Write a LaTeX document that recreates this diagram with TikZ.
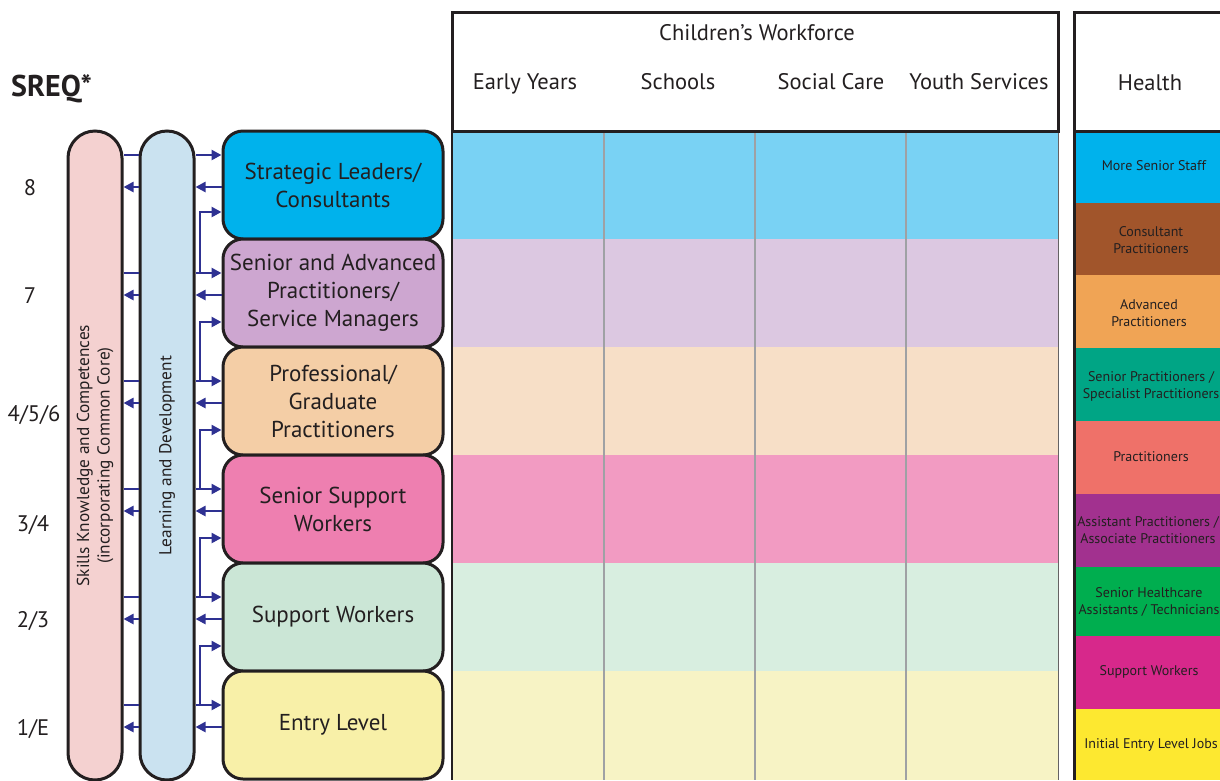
\documentclass[tikz,border=0pt]{standalone}
\usepackage{fontspec}
\setmainfont{PT Sans}
\usetikzlibrary{arrows.meta}

\definecolor{ink}{HTML}{231F20}
\definecolor{arrowblue}{HTML}{2E3192}
\definecolor{divgrey}{HTML}{9FA1A4}
\definecolor{pillpink}{HTML}{F4D1D0}
\definecolor{pillblue}{HTML}{CAE2F0}
\definecolor{boxstrat}{HTML}{00B2EC}
\definecolor{boxsenior}{HTML}{CDA6D0}
\definecolor{boxprof}{HTML}{F4CEA6}
\definecolor{boxsupsr}{HTML}{EE7FB0}
\definecolor{boxsup}{HTML}{CBE6D6}
\definecolor{boxentry}{HTML}{F8F0A8}
\definecolor{bandstrat}{HTML}{79D2F4}
\definecolor{bandsenior}{HTML}{DCC8E1}
\definecolor{bandprof}{HTML}{F7DFC7}
\definecolor{bandsupsr}{HTML}{F29BC2}
\definecolor{bandsup}{HTML}{D8EEE0}
\definecolor{bandentry}{HTML}{F7F3C5}
\definecolor{hmore}{HTML}{00B2EC}
\definecolor{hcons}{HTML}{A1552B}
\definecolor{hadv}{HTML}{F0A455}
\definecolor{hsenior}{HTML}{00A585}
\definecolor{hprac}{HTML}{EF7169}
\definecolor{hassist}{HTML}{A2318F}
\definecolor{hhca}{HTML}{00AE4F}
\definecolor{hsupport}{HTML}{D7288B}
\definecolor{hentry}{HTML}{FDE830}

\tikzset{
  pill/.style={draw=ink, line width=3pt, rounded corners=27pt, minimum width=54pt, minimum height=649pt, inner sep=0pt},
  levelbox/.style={draw=ink, line width=3pt, rounded corners=20pt, minimum width=220pt, minimum height=108pt, inner sep=0pt, align=center, text=ink, font=\fontsize{23}{28}\selectfont},
  flow/.style={draw=arrowblue, line width=2.8pt, -{Triangle[length=10pt,width=10pt]}},
  link/.style={draw=arrowblue, line width=2.8pt},
  colhead/.style={text=ink, anchor=base, font=\fontsize{22.5}{26}\selectfont},
  healthtxt/.style={text=ink, align=center, font=\fontsize{14}{17}\selectfont},
  levelnum/.style={text=ink, anchor=base, font=\fontsize{22.5}{26}\selectfont},
  pilltxt/.style={text=ink, align=center, rotate=90, font=\fontsize{17.3}{20.5}\selectfont},
}

\begin{document}
\begin{tikzpicture}[x=1pt, y=-1pt]
  \useasboundingbox (0,0) rectangle (1220,780);
  \clip (0,0) rectangle (1220,780);

  %%%%% children's workforce %%%%%
  \fill[bandstrat] (452,131) rectangle (1058,239);
  \fill[bandsenior] (452,239) rectangle (1058,347);
  \fill[bandprof] (452,347) rectangle (1058,455);
  \fill[bandsupsr] (452,455) rectangle (1058,563);
  \fill[bandsup] (452,563) rectangle (1058,671);
  \fill[bandentry] (452,671) rectangle (1058,780);

  \draw[divgrey, line width=2pt] (604,129) -- (604,780);
  \draw[divgrey, line width=2pt] (755,129) -- (755,780);
  \draw[divgrey, line width=2pt] (906,129) -- (906,780);
  \draw[ink, line width=1.5pt] (452,131) -- (452,780);
  \draw[ink!70, line width=1pt] (1058,131) -- (1058,780);

  \draw[ink, line width=3pt, fill=white] (452,12) rectangle (1058,131);
  \node[colhead] (cw) at (757,40) {Children’s Workforce};
  \node[colhead] (early) at (525,89) {Early Years};
  \node[colhead] (schools) at (678,89) {Schools};
  \node[colhead] (social) at (831,89) {Social Care};
  \node[colhead] (youth) at (979,89) {Youth Services};

  %%%%% health %%%%%
  \fill[hmore] (1074,131) rectangle (1240,203);
  \fill[hcons] (1074,203) rectangle (1240,275);
  \fill[hadv] (1074,275) rectangle (1240,348);
  \fill[hsenior] (1074,348) rectangle (1240,421);
  \fill[hprac] (1074,421) rectangle (1240,494);
  \fill[hassist] (1074,494) rectangle (1240,567);
  \fill[hhca] (1074,567) rectangle (1240,636);
  \fill[hsupport] (1074,636) rectangle (1240,709);
  \fill[hentry] (1074,709) rectangle (1240,780);

  \draw[ink, line width=3pt] (1074,780) -- (1074,12) -- (1240,12);
  \draw[ink, line width=3pt] (1074,131) -- (1240,131);
  \node[colhead] (health) at (1150,90) {Health};

  \node[healthtxt] (hmorestaff) at (1154,166) {More Senior Staff};
  \node[healthtxt] (hconsult) at (1151,240) {Consultant\\Practitioners};
  \node[healthtxt] (hadvanced) at (1149,313) {Advanced\\Practitioners};
  \node[healthtxt] (hseniorpr) at (1151,386) {Senior Practitioners /\\Specialist Practitioners};
  \node[healthtxt] (hpractit) at (1151,457) {Practitioners};
  \node[healthtxt] (hassoc) at (1148,530) {Assistant Practitioners /\\Associate Practitioners};
  \node[healthtxt] (hhcasst) at (1149,602) {Senior Healthcare\\Assistants / Technicians};
  \node[healthtxt] (hsupworkers) at (1149,672) {Support Workers};
  \node[healthtxt] (hinitial) at (1151,745) {Initial Entry Level Jobs};

  %%%%% SREQ levels %%%%%
  \node[text=ink, anchor=base west, inner sep=0pt, font=\fontsize{30}{34}\selectfont\bfseries] (sreq) at (11,96) {SREQ*};
  \node[levelnum] (lv8) at (30,195) {8};
  \node[levelnum] (lv7) at (30,303) {7};
  \node[levelnum] (lv456) at (34,421) {4/5/6};
  \node[levelnum] (lv34) at (33,531) {3/4};
  \node[levelnum] (lv23) at (33,627) {2/3};
  \node[levelnum] (lv1e) at (33,735) {1/E};

  %%%%% arrow rows %%%%%
  \coordinate (r1) at (0,155);  \coordinate (l1) at (0,187);  \coordinate (e1) at (200,212);
  \coordinate (r2) at (0,273);  \coordinate (l2) at (0,295);  \coordinate (e2) at (200,322);
  \coordinate (r3) at (0,381);  \coordinate (l3) at (0,403);  \coordinate (e3) at (200,430);
  \coordinate (r4) at (0,489);  \coordinate (l4) at (0,511);  \coordinate (e4) at (200,538);
  \coordinate (r5) at (0,597);  \coordinate (l5) at (0,619);  \coordinate (e5) at (200,646);
  \coordinate (r6) at (0,705);  \coordinate (l6) at (0,727);

  %%%%% pills %%%%%
  \node[pill, fill=pillpink] (ksc) at (95,455.5) {};
  \node[pill, fill=pillblue] (lnd) at (167,455.5) {};
  \node[pilltxt] (ksctxt) at (ksc) {Skills Knowledge and Competences\\(incorporating Common Core)};
  \node[pilltxt] (lndtxt) at (lnd) {Learning and Development};

  %%%%% level boxes %%%%%
  \node[levelbox, fill=boxstrat] (strategic) at (333,185) {Strategic Leaders/\\Consultants};
  \node[levelbox, fill=boxsenior] (senior) at (333,293) {Senior and Advanced\\Practitioners/\\Service Managers};
  \node[levelbox, fill=boxprof] (prof) at (333,401) {Professional/\\Graduate\\Practitioners};
  \node[levelbox, fill=boxsupsr] (supsr) at (333,509) {Senior Support\\Workers};
  \node[levelbox, fill=boxsup] (support) at (333,617) {Support Workers};
  \node[levelbox, fill=boxentry] (entry) at (333,725) {Entry Level};

  %%%%% connectors %%%%%
  \draw[link] (ksc.east |- r1) -- (lnd.west |- r1);
  \draw[flow] (lnd.east |- r1) -- (strategic.west |- r1);
  \draw[flow] (lnd.west |- l1) -- (ksc.east |- l1);
  \draw[flow] (strategic.west |- l1) -- (lnd.east |- l1);
  \draw[flow] (e1 |- r2) -- (e1) -- (strategic.west |- e1);

  \draw[link] (ksc.east |- r2) -- (lnd.west |- r2);
  \draw[flow] (lnd.east |- r2) -- (senior.west |- r2);
  \draw[flow] (lnd.west |- l2) -- (ksc.east |- l2);
  \draw[flow] (senior.west |- l2) -- (lnd.east |- l2);
  \draw[flow] (e2 |- r3) -- (e2) -- (senior.west |- e2);

  \draw[link] (ksc.east |- r3) -- (lnd.west |- r3);
  \draw[flow] (lnd.east |- r3) -- (prof.west |- r3);
  \draw[flow] (lnd.west |- l3) -- (ksc.east |- l3);
  \draw[flow] (prof.west |- l3) -- (lnd.east |- l3);
  \draw[flow] (e3 |- r4) -- (e3) -- (prof.west |- e3);

  \draw[link] (ksc.east |- r4) -- (lnd.west |- r4);
  \draw[flow] (lnd.east |- r4) -- (supsr.west |- r4);
  \draw[flow] (lnd.west |- l4) -- (ksc.east |- l4);
  \draw[flow] (supsr.west |- l4) -- (lnd.east |- l4);
  \draw[flow] (e4 |- r5) -- (e4) -- (supsr.west |- e4);

  \draw[link] (ksc.east |- r5) -- (lnd.west |- r5);
  \draw[flow] (lnd.east |- r5) -- (support.west |- r5);
  \draw[flow] (lnd.west |- l5) -- (ksc.east |- l5);
  \draw[flow] (support.west |- l5) -- (lnd.east |- l5);
  \draw[flow] (e5 |- r6) -- (e5) -- (support.west |- e5);

  \draw[link] (ksc.east |- r6) -- (lnd.west |- r6);
  \draw[flow] (lnd.east |- r6) -- (entry.west |- r6);
  \draw[flow] (lnd.west |- l6) -- (ksc.east |- l6);
  \draw[flow] (entry.west |- l6) -- (lnd.east |- l6);

\end{tikzpicture}
\end{document}
